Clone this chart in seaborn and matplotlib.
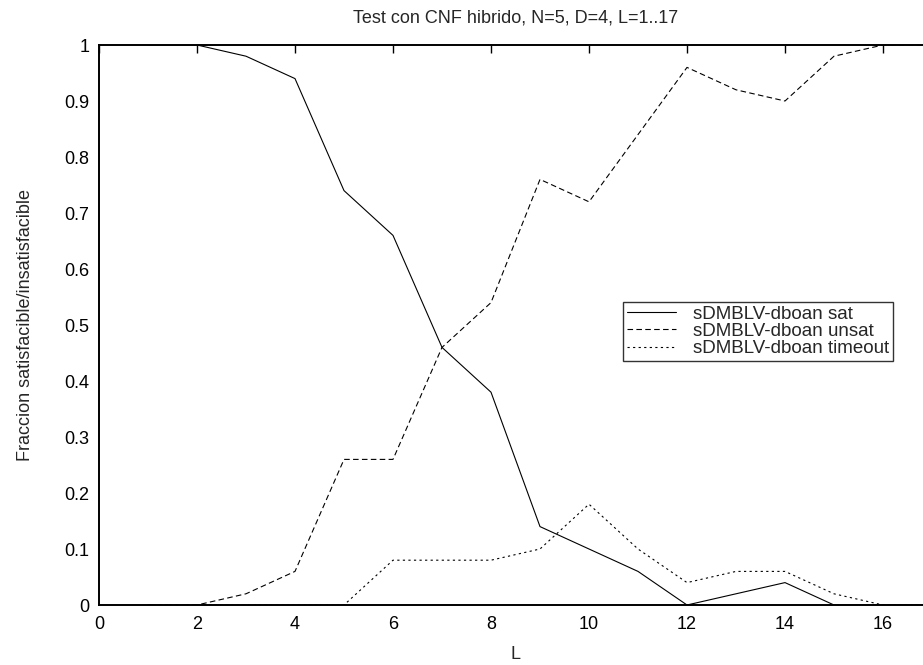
import matplotlib
matplotlib.use("Agg")
import matplotlib.pyplot as plt
import seaborn as sns
import pandas as pd

L = [1, 2, 3, 4, 5, 6, 7, 8, 9, 10, 11, 12, 13, 14, 15, 16, 17]
sat = [1.0, 1.0, 0.98, 0.94, 0.74, 0.66, 0.46, 0.38, 0.14, 0.10, 0.06, 0.0, 0.02, 0.04, 0.0, 0.0, 0.0]
unsat = [0.0, 0.0, 0.02, 0.06, 0.26, 0.26, 0.46, 0.54, 0.76, 0.72, 0.84, 0.96, 0.92, 0.90, 0.98, 1.0, 1.0]
timeout = [0.0, 0.0, 0.0, 0.0, 0.0, 0.08, 0.08, 0.08, 0.10, 0.18, 0.10, 0.04, 0.06, 0.06, 0.02, 0.0, 0.0]
labels = ["sDMBLV-dboan sat", "sDMBLV-dboan unsat", "sDMBLV-dboan timeout"]
xticks = [0, 2, 4, 6, 8, 10, 12, 14, 16]
yticks = [0, 0.1, 0.2, 0.3, 0.4, 0.5, 0.6, 0.7, 0.8, 0.9, 1.0]
yticklabels = ["0", "0.1", "0.2", "0.3", "0.4", "0.5", "0.6", "0.7", "0.8", "0.9", "1"]

sns.set_style("white")
plt.rcParams['font.family'] = ['Liberation Sans', 'DejaVu Sans']

FS = 13
fig = plt.figure(figsize=(9.23, 6.65), dpi=100)
W, H = 923, 665
x0, x1, y0, y1 = 99, 932, 45, 605
ax = fig.add_axes([x0 / W, (H - y1) / H, (x1 - x0) / W, (y1 - y0) / H])

styles = [None, (5, 3), (2, 3)]
for vals, lab, dash in zip([sat, unsat, timeout], labels, styles):
    df = pd.DataFrame({"L": L, "v": vals})
    sns.lineplot(data=df, x="L", y="v", ax=ax, color="black", linewidth=0.8, label=lab)
    if dash is not None:
        ax.lines[-1].set_dashes(dash)

ax.set_xlim(0, 17)
ax.set_ylim(0, 1)
ax.set_xticks(xticks)
ax.set_xticklabels([str(t) for t in xticks])
ax.set_yticks(yticks)
ax.set_yticklabels(yticklabels)
ax.tick_params(direction="in", length=6, width=1, top=True, right=False,
               labelsize=FS, colors="black")
ax.tick_params(axis="y", pad=7)
ax.tick_params(axis="x", pad=8)
for s in ax.spines.values():
    s.set_linewidth(1.4)
    s.set_color("black")

ax.set_xlabel("L", fontsize=FS, labelpad=9)
ax.set_ylabel("Fraccion satisfacible/insatisfacible", fontsize=FS, labelpad=22)
ax.set_title("Test con CNF hibrido, N=5, D=4, L=1..17", fontsize=FS, pad=16)

leg = ax.legend(loc="upper left", bbox_to_anchor=((623 - x0) / (x1 - x0), 1 - (302 - y0) / (y1 - y0)),
                frameon=True, fancybox=False, fontsize=13.5, handlelength=2.6,
                borderpad=0.2, labelspacing=0.0, handletextpad=0.95, borderaxespad=0)
leg.get_frame().set_edgecolor("black")
leg.get_frame().set_linewidth(1.0)

fig.savefig("out.png", dpi=100)
